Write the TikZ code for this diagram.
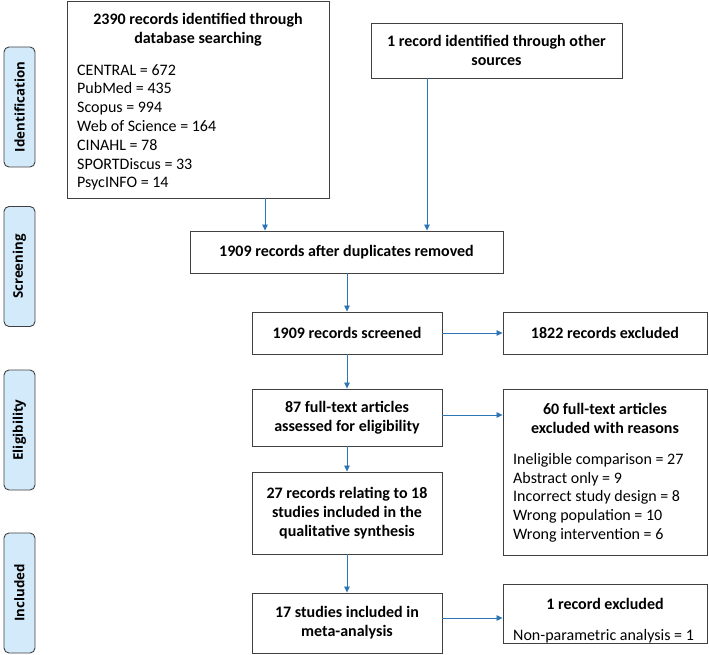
\documentclass[tikz,border=0pt]{standalone}
\usepackage{fontspec}
\setmainfont{Carlito}
\newfontfamily\sidefont{Open Sans}
\usetikzlibrary{arrows.meta}
\definecolor{boxline}{HTML}{404040}
\definecolor{arrowblue}{HTML}{2E75B6}
\definecolor{sidefill}{HTML}{D3EAFB}
\tikzset{
  box/.style={draw=boxline, line width=0.9pt, inner sep=0pt, fill=white},
  sidelabel/.style={draw=boxline, line width=0.9pt, fill=sidefill, rounded corners=5pt, inner sep=0pt,
     minimum width=31pt, minimum height=120pt},
  sidetext/.style={rotate=90, font=\sidefont\bfseries\fontsize{13.3}{16}\selectfont, text=black},
  head/.style={font=\bfseries\fontsize{16}{19}\selectfont, align=center, inner sep=0pt},
  listtext/.style={font=\fontsize{16}{18.8}\selectfont, align=left, inner sep=0pt, anchor=north west},
  arr/.style={draw=arrowblue, line width=0.8pt, -{Triangle[length=6pt,width=5.5pt]}}
}
\begin{document}
\begin{tikzpicture}[x=1pt,y=-1pt]
\useasboundingbox (0,0) rectangle (709,655);
% side labels
\node[sidelabel] (sid) at (19.5,107) {};
\node[sidetext] (sidt) at (sid.center) {Identification};
\node[sidelabel] (sscr) at (19.5,266.5) {};
\node[sidetext] (sscrt) at (sscr.center) {Screening};
\node[sidelabel] (selg) at (19.5,430) {};
\node[sidetext] (selgt) at (selg.center) {Eligibility};
\node[sidelabel] (sinc) at (19.5,593) {};
\node[sidetext] (sinct) at (sinc.center) {Included};
% boxes
\node[box, minimum width=262pt, minimum height=197pt] (A) at (198,99.5) {};
\node[head] (Ah) at (198,30) {2390 records identified through\\database searching};
\node[listtext] (Al) at (77,64) {CENTRAL = 672\\PubMed = 435\\Scopus = 994\\Web of Science = 164\\CINAHL = 78\\SPORTDiscus = 33\\PsycINFO = 14};
\node[box, minimum width=251pt, minimum height=55pt, head] (B) at (496.5,50.5) {1 record identified through other\\sources};
\node[box, minimum width=313pt, minimum height=42pt, head] (C) at (346.5,252) {1909 records after duplicates removed};
\node[box, minimum width=190pt, minimum height=42pt, head] (D) at (347,333) {1909 records screened};
\node[box, minimum width=204pt, minimum height=42pt, head] (E) at (605,333) {1822 records excluded};
\node[box, minimum width=190pt, minimum height=57pt, head] (F) at (347,417.5) {87 full-text articles\\assessed for eligibility};
\node[box, minimum width=204pt, minimum height=166pt] (G) at (605,472) {};
\node[head] (Gh) at (605,418) {60 full-text articles\\excluded with reasons};
\node[listtext] (Gl) at (513,453) {Ineligible comparison = 27\\Abstract only = 9\\Incorrect study design = 8\\Wrong population = 10\\Wrong intervention = 6};
\node[box, minimum width=190pt, minimum height=82pt, head] (H) at (347,513) {27 records relating to 18\\studies included in the\\qualitative synthesis};
\node[box, minimum width=190pt, minimum height=60pt, head] (I) at (347,623) {17 studies included in\\meta-analysis};
\node[box, minimum width=204pt, minimum height=59pt] (J) at (605,613.5) {};
\node[head] (Jh) at (605,604) {1 record excluded};
\node[listtext] (Jl) at (513,629) {Non-parametric analysis = 1};
% arrows
\draw[arr] ([xshift=67pt]A.south) -- ([xshift=67pt]A.south |- C.north);
\draw[arr] ([xshift=-69.5pt]B.south) -- ([xshift=-69.5pt]B.south |- C.north);
\draw[arr] (C.south -| D.north) -- (D.north);
\draw[arr] (D.east) -- (E.west);
\draw[arr] (D.south) -- (F.north);
\draw[arr] ([yshift=2.5pt]F.east) -- ([yshift=2.5pt]F.east -| G.west);
\draw[arr] (F.south) -- (H.north);
\draw[arr] (H.south) -- (I.north);
\draw[arr] ([yshift=5pt]I.east) -- ([yshift=5pt]I.east -| J.west);
\end{tikzpicture}
\end{document}
